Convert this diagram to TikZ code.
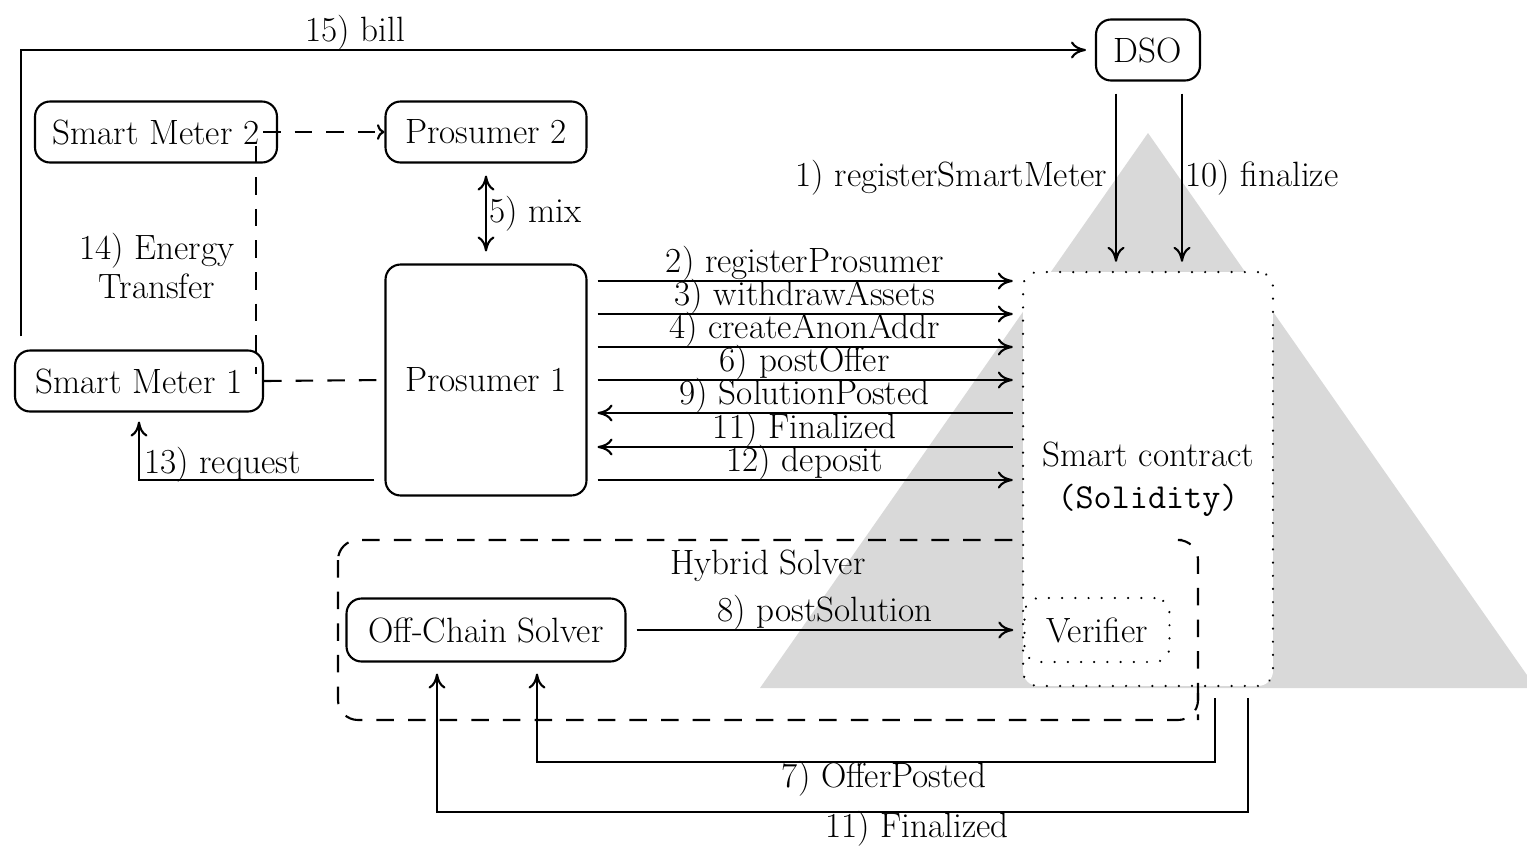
\documentclass[tikz,border=0pt]{standalone}
\usepackage{fontspec}
\usetikzlibrary{arrows.meta,calc}
\definecolor{trigray}{RGB}{217,217,217}
\begin{document}
\begin{tikzpicture}[x=0.02cm,y=-0.02cm,
  every node/.style={font=\fontsize{20}{22}\selectfont},
  box/.style={draw,rounded corners=0.3cm,line width=1.2pt,minimum height=1.22cm,inner sep=0pt},
  arr/.style={line width=1.2pt,-{Computer Modern Rightarrow[length=0.3cm,width=0.34cm]}},
  dsh/.style={line width=1.2pt,dash pattern=on 10pt off 8pt},
  dotline/.style={line width=1.4pt,dash pattern=on 0.01pt off 7.5pt,line cap=round},
  lbl/.style={inner sep=1pt},
  albl/.style={inner sep=1pt, above, yshift=-0.06cm}]
\useasboundingbox (0,0) rectangle (1527,845);
% gray triangle
\fill[trigray] (760,688) -- (1148,133) -- (1536,688) -- cycle;
% nodes
\node[box, minimum width=2.08cm] (dso) at (1148,50) {DSO};
\node[box, minimum width=4.84cm] (sm2) at (156,132) {Smart Meter 2};
\node[box, minimum width=4.02cm] (p2) at (486,132) {Prosumer 2};
\node[box, minimum width=4.02cm, minimum height=4.62cm] (p1) at (486,380) {Prosumer 1};
\node[box, minimum width=4.96cm] (sm1) at (139,381) {Smart Meter 1};
\node[box, minimum width=5.58cm, minimum height=1.26cm] (ocs) at (486,630) {Off-Chain Solver};
% hybrid solver
\draw[dsh, rounded corners=0.4cm] (338,540) rectangle (1198,720);
\node (hs) at (768,566) {Hybrid Solver};
% smart contract
\node[draw, dotline, fill=white, rounded corners=0.3cm, minimum width=5cm, minimum height=8.28cm, align=center] (sc) at (1148,479) {Smart contract\\[2pt]{\ttfamily(Solidity)}};
\node[draw, dotline, rounded corners=0.3cm, minimum width=2.9cm, minimum height=1.28cm] (ver) at (1097,630) {Verifier};
\draw[dsh, rounded corners=0.4cm] (1182,540) -- (1198,540) -- (1198,720);
% 15) bill
\coordinate (billstart) at ($(sm1.north west)+(7,0)$);
\draw[arr, shorten <=0.26cm, shorten >=0.18cm] (billstart) |- (dso.west);
\node[lbl, anchor=south] (billlbl) at (355,52) {15) bill};
% energy transfer
\draw[dsh, -{To}] ([xshift=-0.3cm]sm2.east) -- (p2.west);
\coordinate (et1) at ($(sm2.south)+(100,-18)$);
\coordinate (et2) at ($(sm1.north)+(117,25)$);
\draw[dsh] (et1) -- (et2);
\draw[dsh] (sm1.east) -- (p1.west);
\node[align=center] (etl) at (157,266) {14) Energy\\Transfer};
% 5) mix
\draw[line width=1.2pt, {Computer Modern Rightarrow[length=0.3cm,width=0.34cm]}-{Computer Modern Rightarrow[length=0.3cm,width=0.34cm]}, shorten <=0.24cm, shorten >=0.24cm] (p2.south) -- node[right, xshift=-2pt] {5) mix} (p1.north);
% prosumer <-> contract
\draw[arr, shorten <=0.2cm, shorten >=0.18cm] (p1.east |- 0,281) -- node[albl] {2) registerProsumer} (sc.west |- 0,281);
\draw[arr, shorten <=0.2cm, shorten >=0.18cm] (p1.east |- 0,314) -- node[albl] {3) withdrawAssets} (sc.west |- 0,314);
\draw[arr, shorten <=0.2cm, shorten >=0.18cm] (p1.east |- 0,347) -- node[albl] {4) createAnonAddr} (sc.west |- 0,347);
\draw[arr, shorten <=0.2cm, shorten >=0.18cm] (p1.east |- 0,380) -- node[albl] {6) postOffer} (sc.west |- 0,380);
\draw[arr, shorten <=0.18cm, shorten >=0.2cm] (sc.west |- 0,413) -- node[albl] {9) SolutionPosted} (p1.east |- 0,413);
\draw[arr, shorten <=0.18cm, shorten >=0.2cm] (sc.west |- 0,447) -- node[albl] {11) Finalized} (p1.east |- 0,447);
\draw[arr, shorten <=0.2cm, shorten >=0.18cm] (p1.east |- 0,480) -- node[albl] {12) deposit} (sc.west |- 0,480);
% 13) request
\draw[arr, shorten <=0.2cm, shorten >=0.18cm] (p1.west |- 0,480) -| (sm1.south);
\node[lbl, anchor=south west] (reql) at (142,484) {13) request};
% DSO arrows
\draw[arr, shorten <=0.24cm, shorten >=0.18cm] ([xshift=-0.64cm]dso.south) -- node[left, xshift=-1pt, yshift=-0.03cm] {1) registerSmartMeter} ([xshift=-0.64cm]dso.south |- sc.north);
\draw[arr, shorten <=0.24cm, shorten >=0.18cm] ([xshift=0.68cm]dso.south) -- node[right, xshift=-2pt, yshift=-0.03cm] {10) finalize} ([xshift=0.68cm]dso.south |- sc.north);
% 8) postSolution
\draw[arr, shorten <=0.2cm, shorten >=0.2cm] (ocs.east) -- node[albl] {8) postSolution} (ver.west);
% 7) OfferPosted
\coordinate (c7a) at ($(sc.south)+(67,0)$);
\coordinate (c7b) at ($(ocs.south)+(51,0)$);
\draw[arr, shorten <=0.22cm, shorten >=0.22cm] (c7a) -- ++(0,75) -| (c7b);
\node[lbl, anchor=north] (l7) at (884,759) {7) OfferPosted};
% 11) Finalized
\coordinate (c11a) at ($(sc.south)+(100,0)$);
\coordinate (c11b) at ($(ocs.south)+(-49,0)$);
\draw[arr, shorten <=0.22cm, shorten >=0.22cm] (c11a) -- ++(0,125) -| (c11b);
\node[lbl, anchor=north] (l11) at (917,809) {11) Finalized};
\end{tikzpicture}
\end{document}
